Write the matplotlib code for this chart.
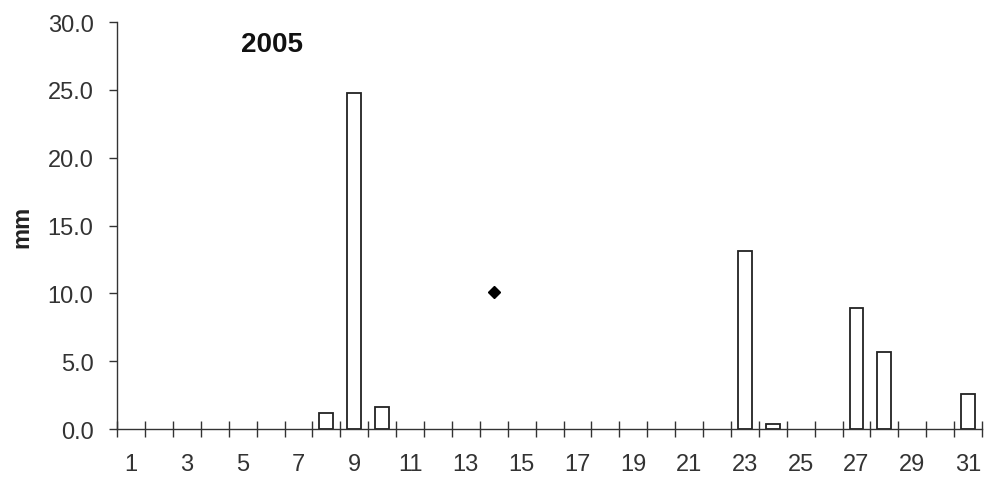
import numpy as np
import matplotlib.pyplot as plt

plt.rcParams['font.family'] = ['Liberation Sans', 'DejaVu Sans']

# daily rainfall, 2005
days = list(range(1, 32))
rain_days = [8, 9, 10, 23, 24, 27, 28, 31]
rain_mm = [1.2, 24.8, 1.6, 13.1, 0.4, 8.9, 5.7, 2.6]
point_day = [14]
point_mm = [10.1]
tick_labels = [str(d) for d in days if d % 2 == 1]

fig = plt.figure(figsize=(9.84, 4.81), dpi=100)
ax = fig.add_axes([0.119, 0.106, 0.879, 0.846])

ax.bar(rain_days, rain_mm, width=0.5, facecolor='white', edgecolor='#222222', linewidth=1.3)
ax.plot(point_day, point_mm, marker='D', color='black', markersize=6, linestyle='none')

ax.set_xlim(0.5, 31.5)
ax.set_ylim(0, 30)
ax.set_yticks(np.arange(0, 31, 5))
ax.set_yticklabels(['%.1f' % v for v in np.arange(0, 31, 5)])

# ticks sit on the category boundaries, labels on odd days
ax.set_xticks(np.arange(0.5, 32, 1))
ax.set_xticklabels([])
ax.set_xticks([d for d in days if d % 2 == 1], minor=True)
ax.set_xticklabels(tick_labels, minor=True)
ax.tick_params(axis='x', which='major', direction='inout', length=11, width=1, color='#333333')
ax.tick_params(axis='x', which='minor', length=0, pad=17)
ax.tick_params(axis='y', direction='out', length=6, width=1, color='#333333', pad=11)
ax.tick_params(which='both', labelsize=17, labelcolor='#333333')

for s in ['top', 'right']:
    ax.spines[s].set_visible(False)
for s in ['left', 'bottom']:
    ax.spines[s].set_color('#333333')
    ax.spines[s].set_linewidth(1)

ax.set_ylabel('mm', fontsize=17, fontweight='bold', color='#222222')
ax.yaxis.set_label_coords(-0.097, 0.5)
ax.text(4.95, 28.4, '2005', fontsize=20, fontweight='bold', ha='left', va='center', color='#111111')

fig.savefig('out.png', dpi=100)
